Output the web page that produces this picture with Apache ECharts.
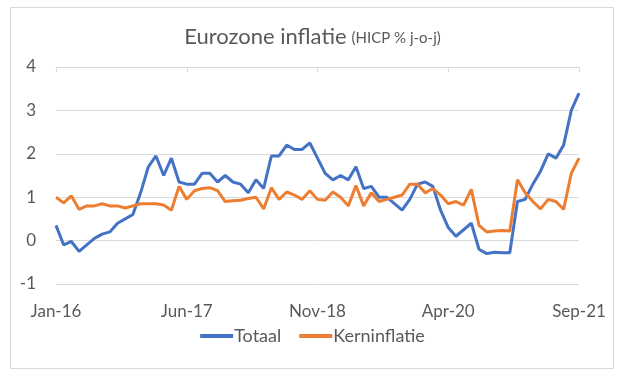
<!DOCTYPE html>
<html>
<head>
<meta charset="utf-8">
<script src="https://cdn.jsdelivr.net/npm/echarts@6/dist/echarts.min.js"></script>
<style>html,body{margin:0;padding:0;background:#fff;}#c{width:625px;height:374px;}</style>
</head>
<body>
<div id="c"></div>
<script>
const months = (function(){
  const m = ['Jan','Feb','Mar','Apr','May','Jun','Jul','Aug','Sep','Oct','Nov','Dec'];
  const out = [];
  for (let y = 16; y <= 21; y++) for (let i = 0; i < 12; i++) {
    if (y === 21 && i > 8) break;
    out.push(m[i] + '-' + y);
  }
  return out;
})();
const totaal = [
  0.35,-0.1,-0.02,-0.25,-0.1,0.05,0.15,0.2,0.4,0.5,0.6,1.1,
  1.7,1.95,1.5,1.9,1.35,1.3,1.3,1.55,1.55,1.35,1.5,1.35,
  1.3,1.1,1.4,1.2,1.95,1.95,2.2,2.1,2.1,2.25,1.9,1.55,
  1.4,1.5,1.4,1.7,1.2,1.25,1.0,1.0,0.85,0.7,0.95,1.3,
  1.35,1.25,0.7,0.3,0.1,0.25,0.4,-0.2,-0.3,-0.27,-0.28,-0.28,
  0.9,0.95,1.3,1.6,2.0,1.9,2.2,3.0,3.4
];
const kern = [
  1.0,0.87,1.03,0.72,0.8,0.8,0.85,0.8,0.8,0.75,0.8,0.85,
  0.85,0.85,0.82,0.7,1.25,0.95,1.15,1.2,1.22,1.15,0.9,0.92,
  0.93,0.97,1.0,0.73,1.22,0.95,1.12,1.05,0.95,1.15,0.95,0.93,
  1.12,1.0,0.8,1.27,0.8,1.1,0.9,0.95,1.0,1.05,1.3,1.3,
  1.1,1.2,1.05,0.85,0.9,0.82,1.18,0.35,0.2,0.22,0.23,0.22,
  1.4,1.1,0.9,0.73,0.95,0.9,0.72,1.55,1.9
];
const yMin = -1, yMax = 4, yStep = 1;

const chart = echarts.init(document.getElementById('c'));
const grey = '#595959';
chart.setOption({
  animation: false,
  graphic: [{
    type: 'rect', left: 8, top: 5,
    shape: {width: 603, height: 361},
    style: {fill: 'none', stroke: '#D9D9D9', lineWidth: 1}
  }],
  title: {
    text: '{a|Eurozone inflatie} {b|(HICP % j-o-j)}',
    left: 'center', top: 21,
    textStyle: {
      fontWeight: 'normal',
      rich: {
        a: {fontFamily: 'Lato', fontSize: 22, fontWeight: 'normal', color: grey},
        b: {fontFamily: 'Lato', fontSize: 15, fontWeight: 'normal', color: grey, padding: [3,0,0,0]}
      }
    }
  },
  legend: {
    bottom: 24, left: 'center',
    itemWidth: 33, itemHeight: 4, itemGap: 18,
    icon: 'rect',
    textStyle: {fontFamily: 'Lato', fontSize: 18, color: grey, padding: [0,0,0,-4]},
    data: ['Totaal', 'Kerninflatie']
  },
  grid: {left: 56, right: 46, top: 67, bottom: 90},
  xAxis: [{
    type: 'category', data: months, boundaryGap: false,
    axisLine: {show: false},
    axisTick: {show: false},
    axisLabel: {interval: 16, margin: 19, fontFamily: 'Lato', fontSize: 17, color: grey},
    splitLine: {show: false}
  }, {
    type: 'category', data: months, boundaryGap: false, position: 'top',
    axisLine: {show: true, onZero: true, lineStyle: {color: '#D9D9D9', width: 1}},
    axisTick: {show: true, interval: 16, inside: true, length: 5, lineStyle: {color: '#D9D9D9'}},
    axisLabel: {show: false},
    splitLine: {show: false}
  }],
  yAxis: {
    type: 'value', min: yMin, max: yMax, interval: yStep,
    axisLine: {show: false}, axisTick: {show: false},
    axisLabel: {margin: 20, fontFamily: 'Lato', fontSize: 17, color: grey},
    splitLine: {lineStyle: {color: '#D9D9D9', width: 1}}
  },
  series: [{
    name: 'Totaal', type: 'line', data: totaal, symbol: 'none',
    lineStyle: {color: '#4472C4', width: 3}, itemStyle: {color: '#4472C4'}
  }, {
    name: 'Kerninflatie', type: 'line', data: kern, symbol: 'none',
    lineStyle: {color: '#ED7D31', width: 3}, itemStyle: {color: '#ED7D31'}
  }]
});
</script>
</body>
</html>
